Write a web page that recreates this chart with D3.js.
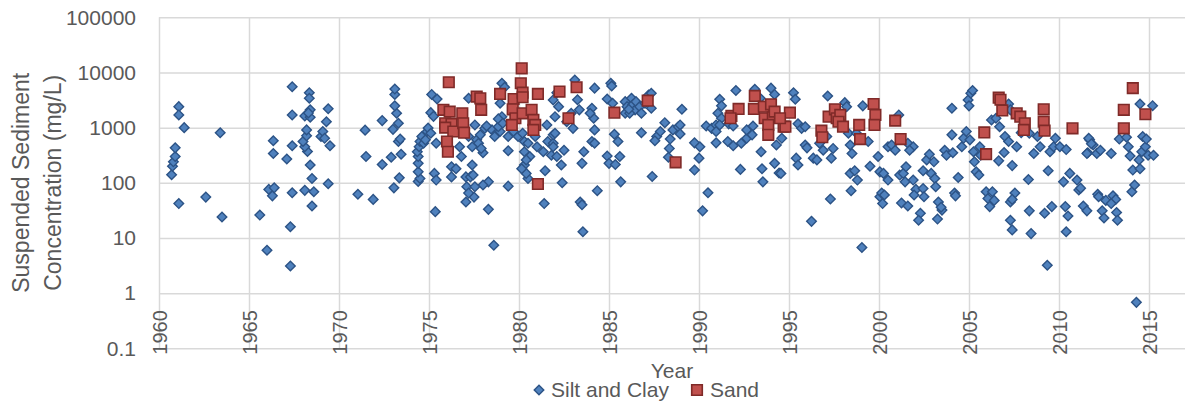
<html>
  <head>
    <title>Suspended sediment</title>
    <script src="https://d3js.org/d3.v7.min.js"></script>
  </head>
  <body>
    <svg id="chart" width="1188" height="402"></svg>
    <script>
      // [year, concentration mg/L]
      const siltClay = [
        [1960.7,140],[1960.75,200],[1960.8,240],[1960.9,300],[1960.9,430],[1961.1,2400],[1961.1,1700],[1961.4,1000],[1961.1,42],
        [1962.6,55],[1963.4,810],[1963.5,24],[1965.6,26],[1966.0,6],[1967.3,3.1],[1967.3,16],[1966.1,76],[1966.3,58],[1966.4,81],
        [1967.4,66],[1968.1,73],[1968.6,69],[1968.5,38],[1969.4,96],[1971.05,62],[1968.5,120],[1968.4,210],[1967.1,270],[1966.35,340],
        [1966.35,580],[1967.4,470],[1968.25,370],[1968.1,450],[1968.0,560],[1968.2,710],[1968.2,910],[1969.0,690],[1969.1,850],
        [1969.2,640],[1969.5,470],[1969.3,1280],[1969.4,2200],[1967.4,5500],[1967.4,1700],[1968.35,4300],[1968.35,3400],[1968.4,2100],
        [1968.1,1630],[1968.4,1540],[1968.3,1850],[1971.45,900],[1971.5,300],
        [1971.9,50],[1972.4,1340],[1972.4,215],[1972.9,290],[1973.0,930],[1973.05,81],[1973.35,123],[1973.45,330],[1973.3,560],
        [1973.4,620],[1973.3,1200],[1973.2,1820],[1973.1,2480],[1973.1,4000],[1973.1,5000],
        [1974.4,106],[1974.5,120],[1974.4,158],[1974.4,225],[1974.4,300],[1974.35,365],[1974.45,450],[1974.5,560],[1974.6,690],
        [1974.7,520],[1974.9,850],[1974.95,980],[1974.8,600],
        [1975.3,148],[1975.4,112],[1975.35,30],[1975.15,4000],[1975.45,3300],[1975.1,1870],[1975.25,1600],[1975.1,790],[1975.4,520],
        [1976.25,128],[1976.25,195],[1976.5,180],[1976.7,450],[1976.8,300],[1977.05,128],[1977.1,85],[1977.05,45],[1977.2,3400],
        [1978.6,7.4],[1978.3,33],[1978.3,104],[1978.0,91],[1979.4,87],[1981.4,42],[1982.4,100],[1981.45,165],[1980.5,120],[1980.4,148],
        [1980.3,210],[1980.6,300],[1980.3,365],[1979.4,380],[1978.0,350],[1977.4,210],[1977.3,128],[1977.45,138],[1977.55,85],
        [1977.5,55],[1977.2,65],[1977.4,450],[1977.65,600],[1977.85,740],[1978.1,970],[1978.5,910],[1978.75,790],[1978.95,850],
        [1978.85,1040],[1978.65,690],[1977.75,520],[1977.9,420],[1977.2,690],[1979.05,6370],[1979.2,5400],[1978.95,2770],
        [1979.05,1580],[1978.85,1440],[1979.1,1200],[1979.4,690],[1979.7,850],[1979.95,690],[1980.2,790],[1980.3,560],[1980.5,520],
        [1980.9,690],[1981.0,450],[1981.35,365],[1981.55,1120],[1981.6,560],[1981.9,520],[1981.9,740],[1982.0,790],[1981.8,315],
        [1981.9,450],[1982.1,300],[1982.35,210],[1982.5,390],[1982.0,1580],[1982.2,2400],[1981.9,3180],[1982.1,4300],[1982.65,1280],
        [1982.9,1820],[1980.15,180],[1980.4,260],[1977.55,1120],[1978.2,1070],
        [1983.1,7300],[1983.25,3200],[1983.35,2100],[1983.0,970],[1984.2,5200],[1984.05,2250],[1984.15,1480],[1983.95,1820],
        [1984.2,910],[1984.05,560],[1984.2,520],[1983.6,365],[1983.5,225],[1984.35,72],[1983.4,45],[1983.5,40],[1983.55,13],
        [1985.1,6370],[1985.15,5700],[1984.9,3300],[1985.2,2770],[1985.3,760],[1985.5,560],[1984.9,305],[1985.0,225],[1985.35,215],
        [1985.6,300],[1985.65,104],
        [1985.9,2960],[1986.0,2400],[1985.9,1820],[1986.25,3400],[1986.3,2580],[1986.45,2100],[1986.5,2960],[1986.7,2400],
        [1986.8,1820],[1987.0,2770],[1987.2,3900],[1987.35,4200],[1987.35,2250],[1986.15,1820],[1986.1,2150],
        [1986.8,810],[1987.4,130],[1987.65,690],[1987.55,580],[1988.1,1230],[1987.85,850],[1988.4,620],[1988.35,420],[1988.3,290],
        [1988.55,910],[1988.85,1040],
        [1989.05,2150],[1988.95,1120],[1988.95,770],[1989.75,530],[1990.05,450],[1990.0,280],[1989.75,170],[1990.5,66],[1990.2,31],
        [1990.4,1070],[1990.7,970],[1990.95,1120],[1990.95,850],[1990.95,530],[1991.15,3270],[1991.25,2480],[1991.05,1820],
        [1991.25,1480],[1991.15,1120],[1991.6,560],[1991.9,470],[1991.65,1170],[1991.9,1070],[1992.05,4700],[1992.3,175],
        [1992.35,520],[1992.65,640],[1992.85,790],[1992.65,910],[1993.0,1070],[1992.95,740],[1993.1,4950],[1993.4,3400],
        [1994.0,5200],[1994.2,4000],[1993.45,365],[1993.5,180],[1993.55,104],[1994.2,225],[1994.45,150],[1994.3,485],[1994.6,640],
        [1995.25,4300],[1995.35,3270],[1995.5,1170],[1995.7,970],[1995.9,1040],[1995.9,485],[1996.0,430],[1995.4,280],[1995.5,210],
        [1994.55,148],[1996.25,20],[1996.35,280],[1996.55,260],[1996.7,520],[1996.9,390],[1997.1,690],[1997.35,280],[1997.45,420],
        [1997.3,51],[1997.15,3750],[1998.1,2840],[1998.2,2400],[1999.1,2480],[1998.3,790],[1998.4,485],[1998.5,340],[1998.4,148],
        [1998.65,165],[1998.8,112],[1998.45,72],[1999.05,6.7],[1998.75,790],[1999.4,560],[1999.5,200],[1999.95,300],[2000.05,158],
        [2000.25,148],[2000.5,450],[2000.05,56],[2000.15,65],[2000.2,42],[2000.3,60],[2000.5,112],
        [2001.1,1700],[2000.7,485],[2000.9,390],[2001.6,520],[2001.9,450],[2001.7,390],
        [2001.15,138],[2001.35,148],[2001.5,195],[2001.45,104],[2001.25,43],[2001.6,38],[2001.9,112],[2002.05,76],[2001.95,60],
        [2002.3,28],[2002.2,21],[2002.45,79],[2002.5,56],[2002.45,165],[2002.65,260],[2002.8,330],[2003.05,240],[2002.9,148],
        [2003.1,120],[2003.15,85],[2003.3,45],[2003.5,32],[2003.25,22],[2003.45,36],[2003.65,390],[2003.75,315],[2004.1,350],
        [2004.05,740],[2004.05,2250],[2004.4,125],[2004.2,65],[2004.25,58],[2004.6,450],[2004.7,640],[2004.85,850],[2005.05,600],
        [2004.95,3180],[2005.1,4200],[2005.2,4700],[2005.0,2480],[2005.25,365],[2005.3,240],[2005.4,158],[2005.55,138],
        [2005.6,450],[2005.65,315],[2005.95,69],[2006.05,52],[2006.15,37],[2006.25,1380],
        [2007.2,2680],[2007.3,2100],[2006.7,1040],[2006.5,1480],[2007.0,690],[2007.2,560],[2007.65,450],[2006.95,355],[2006.65,250],
        [2007.4,205],[2006.3,69],[2006.4,48],[2007.55,65],[2007.3,45],[2007.4,50],[2007.3,21],[2007.4,14],[2007.9,810],[2008.35,790],
        [2008.3,115],[2008.35,31],[2008.45,12],[2008.6,340],[2008.8,690],[2008.95,450],[2009.2,28],[2009.35,3.2],[2009.4,165],
        [2009.5,365],[2009.6,37],[2009.7,450],[2009.8,640],[2010.05,450],[2010.4,400],[2010.25,104],[2010.35,37],[2010.5,25],
        [2010.4,13],[2010.6,148],[2011.0,112],[2011.1,74],[2011.35,38],[2011.55,31],[2011.7,600],[2011.6,350],[2011.9,485],
        [2012.15,62],
        [2011.65,640],[2011.8,510],[2011.55,340],[2012.1,340],[2012.3,390],[2012.9,340],[2011.2,80],[2012.2,56],[2012.6,48],
        [2012.4,31],[2012.5,23],[2013.0,58],[2013.15,50],[2012.9,42],[2013.2,29],[2013.25,21],[2014.5,2680],[2015.2,2500],
        [2013.35,620],[2013.75,670],[2013.85,450],[2013.95,305],[2014.1,170],[2014.05,69],[2014.2,91],[2014.3,0.68],[2014.45,260],
        [2014.5,180],[2014.6,365],[2014.65,690],[2014.8,450],[2014.85,620],[2014.95,315],[2015.25,315]
      ];

      const sand = [
        [1976.1,6650],[1975.8,2100],[1976.15,1950],[1975.9,1200],[1976.25,1170],[1975.9,1000],[1976.35,850],[1976.0,560],
        [1976.05,365],[1976.85,1820],[1976.9,1200],[1976.95,810],
        [1977.65,3650],[1977.85,3400],[1977.9,2100],[1978.95,4080],[1979.7,3300],[1979.65,2150],[1979.8,1480],[1979.6,1120],
        [1980.15,11900],[1980.1,6370],[1980.2,4300],[1980.2,3550],[1980.2,1820],[1980.7,2100],[1980.8,1380],[1980.9,1120],
        [1980.8,910],[1981.05,4080],[1981.05,95],[1982.25,4500],[1982.75,1480],[1983.2,5400],
        [1985.3,1870],[1987.15,3080],[1988.7,235],
        [1991.8,1630],[1992.2,2180],[1991.75,1480],[1993.1,3750],[1993.05,2180],[1993.6,2400],[1994.0,2650],[1993.65,1480],
        [1994.1,1540],[1993.85,1120],[1993.85,740],[1994.7,1040],[1994.2,1950],
        [1995.05,1870],[1994.8,1040],[1994.5,1480],[1996.8,880],[1996.85,670],[1997.2,1580],[1997.55,2150],[1997.65,1480],
        [1997.85,1700],[1997.75,1280],[1998.0,1040],[1998.9,1120],[1998.95,620],[1999.7,2680],[1999.8,1700],[1999.75,1120],
        [2000.9,1340],[2001.2,620],[2005.85,820],[2005.95,330],[2006.65,3500],[2006.75,3200],[2006.85,2050],[2007.65,1820],
        [2007.85,1580],[2008.1,1200],[2008.05,910],[2009.15,2150],[2009.15,1280],[2009.2,880],[2010.75,970],
        [2013.6,2100],[2013.6,970],[2014.1,5200],[2014.8,1750]
      ];

      const yearTicks = [1960,1965,1970,1975,1980,1985,1990,1995,2000,2005,2010,2015];
      const concTicks = [0.1,1,10,100,1000,10000,100000];
      const seriesNames = ['Silt and Clay', 'Sand'];

      const svg = d3.select('svg#chart');
      const plotLeft = 159, plotRight = 1185, plotTop = 17.3, plotBottom = 348.3;

      const x = d3.scaleLinear().domain([1960, 2017]).range([plotLeft, plotRight]);
      const y = d3.scaleLog().domain([0.1, 100000]).range([plotBottom, plotTop]);

      // gridlines
      svg.append('g').attr('class', 'gridlines')
        .attr('transform', `translate(${plotLeft},0)`)
        .call(d3.axisLeft(y).tickValues(concTicks).tickSize(-(plotRight - plotLeft)).tickFormat(''));
      svg.append('g').attr('class', 'gridlines')
        .attr('transform', `translate(0,${plotBottom})`)
        .call(d3.axisBottom(x).tickValues(yearTicks).tickSize(-(plotBottom - plotTop)).tickFormat(''));

      // y labels
      const yAxis = svg.append('g').attr('class', 'axis')
        .attr('transform', `translate(${plotLeft},0)`)
        .call(d3.axisLeft(y).tickValues(concTicks).tickSize(0).tickPadding(23)
          .tickFormat(d => d < 1 ? String(d) : d3.format('d')(d)));
      yAxis.selectAll('text').style('font-size', '21px');

      // x labels, rotated
      const xAxis = svg.append('g').attr('class', 'axis')
        .attr('transform', `translate(0,${y(1)})`)
        .call(d3.axisBottom(x).tickValues(yearTicks).tickSize(0).tickFormat(d3.format('d')));
      xAxis.selectAll('text')
        .attr('transform', 'rotate(-90)')
        .attr('x', -17).attr('y', 0).attr('dy', '0.35em')
        .style('text-anchor', 'end')
        .style('font-size', '20px');

      // points
      const diamond = d3.symbol(d3.symbolSquare, 46);
      const square = d3.symbol(d3.symbolSquare, 112);

      svg.append('g').selectAll('path')
        .data(siltClay).join('path')
        .attr('d', diamond)
        .attr('transform', d => `translate(${x(d[0])},${y(d[1])}) rotate(45)`)
        .attr('fill', '#4f81bd').attr('stroke', '#2c5386').attr('stroke-width', 1.4);

      svg.append('g').selectAll('path')
        .data(sand).join('path')
        .attr('d', square)
        .attr('transform', d => `translate(${x(d[0])},${y(d[1])})`)
        .attr('fill', '#c0504d').attr('stroke', '#7f2a28').attr('stroke-width', 1.6);

      // axis titles
      svg.append('text').attr('class', 'title')
        .attr('transform', `translate(29,${(plotTop + plotBottom) / 2}) rotate(-90)`)
        .attr('text-anchor', 'middle').text('Suspended Sediment');
      svg.append('text').attr('class', 'title')
        .attr('transform', `translate(61,${(plotTop + plotBottom) / 2}) rotate(-90)`)
        .attr('text-anchor', 'middle').text('Concentration (mg/L)');
      svg.append('text')
        .attr('x', (plotLeft + plotRight) / 2).attr('y', 378)
        .attr('text-anchor', 'middle').style('font-size', '21px').text('Year');

      // legend
      const legend = svg.append('g');
      legend.append('path').attr('d', diamond)
        .attr('transform', 'translate(539,390) rotate(45)')
        .attr('fill', '#4f81bd').attr('stroke', '#2c5386').attr('stroke-width', 1.4);
      legend.append('text').attr('x', 551).attr('y', 397).text(seriesNames[0]);
      legend.append('path').attr('d', square)
        .attr('transform', 'translate(697,390)')
        .attr('fill', '#c0504d').attr('stroke', '#7f2a28').attr('stroke-width', 1.6);
      legend.append('text').attr('x', 710).attr('y', 397).text(seriesNames[1]);
      legend.selectAll('text').style('font-size', '21px');
    </script>
    <style>
      body { margin: 0; background: #fff; }
      text { font-family: 'Liberation Sans', Arial, sans-serif; fill: #595959; }
      .title { font-size: 23px; }
      .axis .domain { stroke: none; }
      .axis text { fill: #595959; font-family: 'Liberation Sans', Arial, sans-serif; }
      .gridlines line { stroke: #d9d9d9; stroke-width: 1.5; }
      .gridlines .domain { stroke: none; }
    </style>
  </body>
</html>
